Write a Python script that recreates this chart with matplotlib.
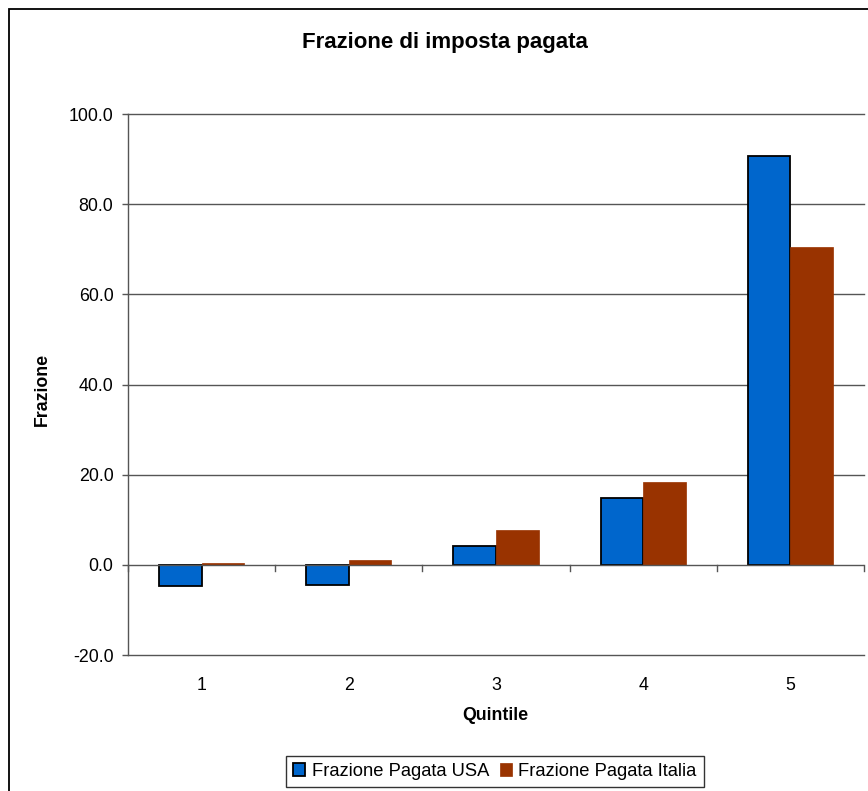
import matplotlib
matplotlib.use("Agg")
import matplotlib.pyplot as plt
from matplotlib.patches import Rectangle
from matplotlib.ticker import FixedLocator, FormatStrFormatter
import numpy as np

plt.rcParams['font.family'] = ['Liberation Sans', 'DejaVu Sans']

quintili = [1, 2, 3, 4, 5]
frazione_usa = [-4.8, -4.5, 4.1, 14.8, 90.7]
frazione_italia = [0.3, 1.0, 7.8, 18.3, 70.4]

titolo = "Frazione di imposta pagata"
etichetta_x = "Quintile"
etichetta_y = "Frazione"
legenda_usa = "Frazione Pagata USA"
legenda_italia = "Frazione Pagata Italia"

col_usa = "#0066CC"
col_italia = "#993300"
col_assi = "#555555"

W, H = 868, 791
fig = plt.figure(figsize=(W / 100, H / 100), dpi=100)

# outer chart frame (left and top edges visible)
fig.patches.append(Rectangle((9 / W, -0.1), 1.2, 1 - 9 / H + 0.1,
                             transform=fig.transFigure, fill=False,
                             edgecolor="black", linewidth=1.3))

ax = fig.add_axes([128 / W, 1 - 655 / H, (864 - 128) / W, (655 - 114) / H])

x = np.array(quintili, dtype=float)
bw = 0.29
ax.bar(x - bw / 2, frazione_usa, width=bw, color=col_usa,
       edgecolor="black", linewidth=1.3, label=legenda_usa, zorder=3)
ax.bar(x + bw / 2, frazione_italia, width=bw, color=col_italia,
       edgecolor=col_italia, linewidth=0.5, label=legenda_italia, zorder=3)

ax.set_xlim(0.5, 5.5)
ax.set_ylim(-20, 100)

for s in ["top", "right", "bottom"]:
    ax.spines[s].set_visible(False)
ax.spines["left"].set_color(col_assi)
ax.spines["left"].set_linewidth(1.0)

# horizontal grid
for yv in [-20, 20, 40, 60, 80, 100]:
    ax.axhline(yv, color=col_assi, linewidth=1.0, zorder=1, clip_on=False)
# category axis at zero, with ticks between categories
ax.axhline(0, color=col_assi, linewidth=1.0, zorder=4)
for b in np.arange(0.5, 6.0, 1.0):
    ax.plot([b, b], [0, -1.4], color=col_assi, linewidth=1.0, zorder=4,
            clip_on=False)

ax.yaxis.set_major_locator(FixedLocator(np.arange(-20, 101, 20)))
ax.yaxis.set_major_formatter(FormatStrFormatter("%.1f"))
ax.tick_params(axis="y", length=4.5, width=1.0, color=col_assi,
               labelsize=12.8, pad=6)
ax.set_xticks(quintili)
ax.set_xticklabels([str(q) for q in quintili])
ax.tick_params(axis="x", length=0, labelsize=12.8, pad=16)

ax.set_xlabel(etichetta_x, fontsize=12.8, fontweight="bold")
ax.xaxis.label.set_va("center")
ax.xaxis.set_label_coords((495 - 128) / 736, (655 - 716) / 541)
ax.set_ylabel(etichetta_y, fontsize=12.8, fontweight="bold")
ax.yaxis.label.set_va("center")
ax.yaxis.set_label_coords((42 - 128) / 736, (655 - 389) / 541)

fig.text(445 / W, 1 - 48 / H, titolo, ha="center", va="baseline",
         fontsize=16, fontweight="bold")

leg = fig.legend(loc="center", bbox_to_anchor=(495 / W, 1 - 771.5 / H),
                 ncol=2, fontsize=13.2, frameon=True, fancybox=False,
                 edgecolor="black", handlelength=0.65, handleheight=0.65,
                 handletextpad=0.35, columnspacing=0.6, borderpad=0.4,
                 borderaxespad=0)
leg.get_frame().set_linewidth(1.0)

fig.savefig("out.png", dpi=100)
